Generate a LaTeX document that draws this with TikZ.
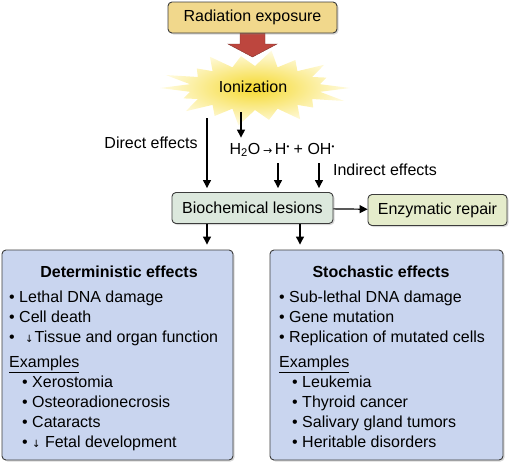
\documentclass[tikz,border=0pt]{standalone}
\usepackage{fontspec}
\setmainfont{Liberation Sans}
\newfontfamily\symfont{DejaVu Sans}
\usetikzlibrary{arrows.meta,shadows}
\definecolor{radfill}{HTML}{F1D88C}
\definecolor{redarr}{HTML}{BD463E}
\definecolor{biofill}{HTML}{DCE8DD}
\definecolor{enzfill}{HTML}{E5ECCB}
\definecolor{effill}{HTML}{C9D5EF}
\definecolor{edge}{HTML}{3C3C3C}
\definecolor{burstin}{HTML}{F5D92E}
\definecolor{burstout}{HTML}{FFFBE2}
\newcommand{\dn}{{\symfont\fontsize{10}{10}\selectfont ↓}}
\newcommand{\toarr}{{\symfont\fontsize{11}{11}\selectfont →}}
\newcommand{\rad}{\raisebox{5pt}{\fontsize{8}{8}\selectfont •}}

\begin{document}
\begin{tikzpicture}[x=1pt,y=-1pt,>={Triangle[length=8pt,width=8pt]},
    every node/.style={font=\fontsize{16}{20}\selectfont},
    box/.style={draw=edge,line width=0.9pt,rounded corners=4pt,
      drop shadow={shadow xshift=1.5pt,shadow yshift=-1.5pt,opacity=0.3}},
    arr/.style={->,line width=1.2pt},
    title/.style={font=\bfseries\fontsize{16}{20}\selectfont},
    list/.style={anchor=north west,align=left,inner sep=0pt}]
    \useasboundingbox (0,0) rectangle (511,466);
    % burst behind "Ionization"
    \begin{scope}[shift={(255,88)}]
        \shade[inner color=burstin,outer color=burstout] (0:95pt and 36pt)
            \foreach \a/\f in {0/1,20/.8,40/.95,60/.85,80/1,100/.85,120/.95,140/.8,160/1,
                               180/1,200/.8,220/.95,240/.85,260/1,280/.85,300/.95,320/.8,340/1}
            {-- (\a:\f*95pt and \f*38pt) -- (\a+10:66pt and 22pt)} -- cycle;
    \end{scope}
    \fill[redarr,draw=redarr!70!black] (240,33) -- (265,33) -- (265,44) -- (277,44)
        -- (252.5,57) -- (228,44) -- (240,44) -- cycle;
    \node[box,fill=radfill,minimum width=169pt,minimum height=31pt] (rad) at (252.5,17.5) {Radiation exposure};
    \node (ion) at (253,87) {Ionization};
    \node (water) at (282,150) {H\textsubscript{2}O\,\toarr\,H\rad\ + OH\rad};
    \node (dlab) at (151,143) {Direct effects};
    \node (ilab) at (385,170) {Indirect effects};
    \node[box,fill=biofill,minimum width=161pt,minimum height=31pt] (bio) at (252.5,208) {Biochemical lesions};
    \node[box,fill=enzfill,minimum width=139pt,minimum height=31pt] (enz) at (437.5,210) {Enzymatic repair};
    \node[box,fill=effill,minimum width=231pt,minimum height=210pt] (det) at (117.5,355) {};
    \node[box,fill=effill,minimum width=233pt,minimum height=210pt] (sto) at (386.5,355) {};
    \node[title] (dett) at (119,272) {Deterministic effects};
    \node[title] (stot) at (381,272) {Stochastic effects};
    \node[list] (detl) at (9,291) {• Lethal DNA damage\\
        • Cell death\\
        • \kern6pt\dn\kern1pt Tissue and organ function\\[5pt]
        \underline{Examples}\\
        \hspace*{13pt}• Xerostomia\\
        \hspace*{13pt}• Osteoradionecrosis\\
        \hspace*{13pt}• Cataracts\\
        \hspace*{13pt}• \dn\ Fetal development};
    \node[list] (stol) at (279,291) {• Sub-lethal DNA damage\\
        • Gene mutation\\
        • Replication of mutated cells\\[5pt]
        \underline{Examples}\\
        \hspace*{13pt}• Leukemia\\
        \hspace*{13pt}• Thyroid cancer\\
        \hspace*{13pt}• Salivary gland tumors\\
        \hspace*{13pt}• Heritable disorders};
    \coordinate (d0) at (207,118);
    \coordinate (w0) at (241,112);
    \coordinate (h0) at (278,163);
    \coordinate (o0) at (319,163);
    \coordinate (s0) at (300,0);
    \draw[arr,shorten >=4pt] (d0) -- (d0 |- bio.north);
    \draw[arr,shorten >=2pt] (w0) -- (w0 |- water.north);
    \draw[arr,shorten >=4pt] (h0) -- (h0 |- bio.north);
    \draw[arr,shorten >=4pt] (o0) -- (o0 |- bio.north);
    \draw[arr] (bio) -- (enz);
    \draw[arr,shorten >=5pt] (bio.south -| d0) -- (det.north -| d0);
    \draw[arr,shorten >=5pt] (bio.south -| s0) -- (sto.north -| s0);
\end{tikzpicture}
\end{document}
